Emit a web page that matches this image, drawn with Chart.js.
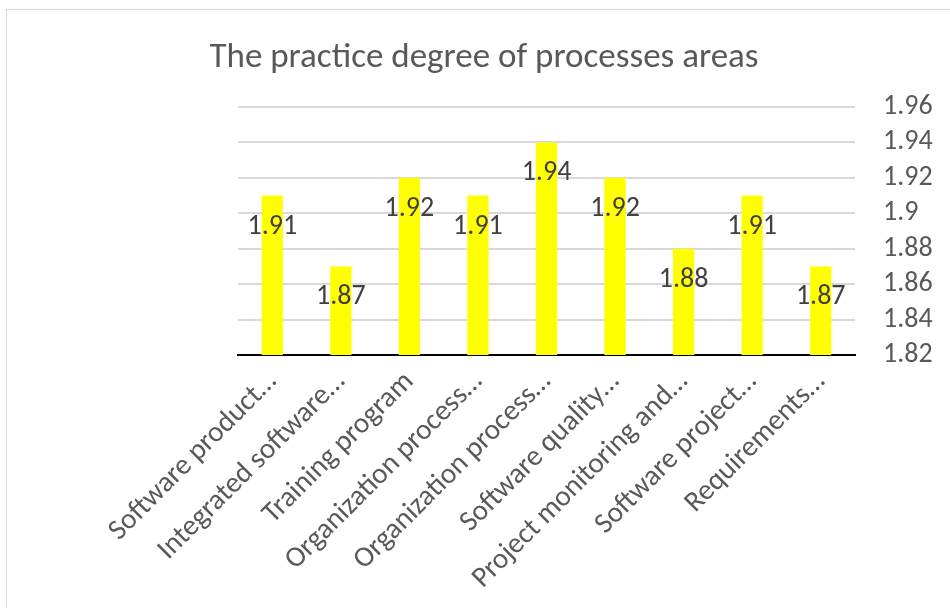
<!DOCTYPE html>
<html>
<head>
<meta charset="utf-8">
<script src="https://cdn.jsdelivr.net/npm/chart.js@4.4.0/dist/chart.umd.min.js"></script>
<style>
  html, body { margin: 0; padding: 0; background: #fff; overflow: hidden; }
  #frame { position: absolute; left: 6px; top: 9px; width: 960px; height: 620px; border: 1px solid #d9d9d9; }
  #wrap { position: absolute; left: 0; top: 0; width: 950px; height: 608px; }
</style>
</head>
<body>
<div id="frame"></div>
<div id="wrap"><canvas id="chart"></canvas></div>
<script>
const categories = [
  'Software product…',
  'Integrated software…',
  'Training program',
  'Organization process…',
  'Organization process…',
  'Software quality…',
  'Project monitoring and…',
  'Software project…',
  'Requirements…'
];
const practiceDegree = [1.91, 1.87, 1.92, 1.91, 1.94, 1.92, 1.88, 1.91, 1.87];
const yTicks = { min: 1.82, max: 1.96, step: 0.02 };

const FONT = "Carlito, Lato, 'Open Sans', sans-serif";

// etiquetas de valor, un poco por debajo del tope de cada barra
const valueLabels = {
  id: 'valueLabels',
  afterDatasetsDraw(chart) {
    const ctx = chart.ctx;
    const meta = chart.getDatasetMeta(0);
    ctx.save();
    ctx.font = '28px ' + FONT;
    ctx.fillStyle = '#404040';
    ctx.textAlign = 'center';
    ctx.textBaseline = 'middle';
    meta.data.forEach((bar, i) => {
      ctx.fillText(String(practiceDegree[i]), bar.x, bar.y + 31);
    });
    ctx.restore();
  }
};

new Chart(document.getElementById('chart').getContext('2d'), {
  type: 'bar',
  data: {
    labels: categories,
    datasets: [{
      label: 'Practice degree',
      data: practiceDegree,
      backgroundColor: '#ffff00',
      borderWidth: 0,
      barPercentage: 0.62,
      categoryPercentage: 0.5
    }]
  },
  options: {
    responsive: true,
    maintainAspectRatio: false,
    animation: false,
    layout: { padding: { left: 18, right: 0, top: 20, bottom: 0 } },
    plugins: {
      legend: { display: false },
      tooltip: { enabled: false },
      title: {
        display: true,
        text: 'The practice degree of processes areas',
        color: '#595959',
        font: { family: FONT, size: 35, weight: 'normal' },
        padding: { top: 17, bottom: 28 }
      }
    },
    scales: {
      x: {
        grid: { display: false, drawTicks: false },
        border: { display: true, color: '#000000', width: 2 },
        ticks: {
          autoSkip: false,
          maxRotation: 45,
          minRotation: 45,
          padding: 10,
          color: '#595959',
          font: { family: FONT, size: 29 }
        },
        afterFit: s => { s.paddingLeft = 238; s.height = 253; }
      },
      y: {
        position: 'right',
        min: yTicks.min,
        max: yTicks.max,
        grid: { color: '#d9d9d9', lineWidth: 2, drawTicks: false },
        border: { display: false },
        ticks: {
          autoSkip: false,
          stepSize: yTicks.step,
          padding: 28,
          color: '#595959',
          font: { family: FONT, size: 28 },
          callback: v => String(Number(v.toFixed(2)))
        },
        afterFit: s => { s.width = 95; }
      }
    }
  },
  plugins: [valueLabels]
});
</script>
</body>
</html>
